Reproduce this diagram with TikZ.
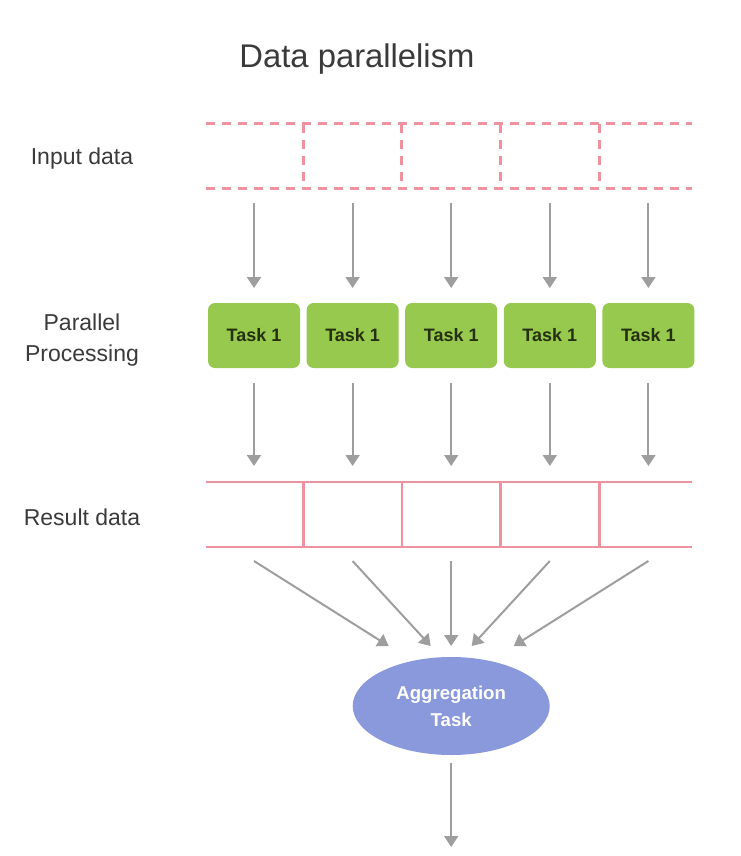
\documentclass[tikz,border=0pt]{standalone}
\usepackage{xcolor}
\usepackage{fontspec}
\setmainfont{Liberation Sans}
\usepackage{tikz}
\usetikzlibrary{
    shapes.geometric,
    arrows.meta,
    positioning,
    calc
}
\definecolor{dppink}{HTML}{F0919F}
\definecolor{dpgreen}{HTML}{97C94F}
\definecolor{dppurple}{HTML}{8A98DC}
\definecolor{dpgray}{HTML}{9E9E9E}
\definecolor{dptext}{HTML}{3A3A3A}
\definecolor{dptask}{HTML}{25300F}
\tikzset{
    % Row label on the left
    rowlabel/.style={
        text=dptext,
        font=\fontsize{11.5}{15.5}\selectfont,
        align=center,
        inner sep=0pt
    },
    % Empty data cell
    cellnode/.style={
        rectangle,
        minimum width=49.3pt,
        minimum height=#1,
        inner sep=0pt,
        outer sep=0pt
    },
    cellnode/.default=32pt,
    % Task box
    taskbox/.style={
        rectangle,
        rounded corners=3.5pt,
        fill=dpgreen,
        text=dptask,
        font=\fontsize{9}{10}\selectfont\bfseries,
        minimum width=46pt,
        minimum height=32.5pt,
        inner sep=0pt,
        outer sep=0pt
    },
    % Aggregation ellipse
    aggnode/.style={
        ellipse,
        fill=dppurple,
        text=white,
        font=\fontsize{9.3}{13.5}\selectfont\bfseries,
        minimum width=98.5pt,
        minimum height=49pt,
        align=center,
        inner sep=0pt,
        outer sep=0pt
    },
    % Cell lines
    dashline/.style={
        draw=dppink,
        line width=1.5pt,
        dash pattern=on 4.5pt off 3.5pt
    },
    solidline/.style={
        draw=dppink,
        line width=1.4pt
    },
    % Arrow style
    dparrow/.style={
        -{Triangle[length=5.5pt,width=7pt]},
        line width=1pt,
        draw=dpgray,
        fill=dpgray
    }
}
\begin{document}
\begin{tikzpicture}[x=0.5pt, y=-0.5pt, node distance=0pt]
    \useasboundingbox (0,0) rectangle (740,856);

    \node[text=dptext, font=\fontsize{16.4}{20}\selectfont, inner sep=0pt] (title) at (357,59) {Data parallelism};

    % labels
    \node[rowlabel] (lb-in) at (82,159) {Input data};
    \node[rowlabel] (lb-tk) at (82,340) {Parallel\\Processing};
    \node[rowlabel] (lb-rs) at (82,517) {Result data};

    % input data cells
    \node[cellnode] (in-1) at (254,156) {};
    \node[cellnode, right=of in-1] (in-2) {};
    \node[cellnode, right=of in-2] (in-3) {};
    \node[cellnode, right=of in-3] (in-4) {};
    \node[cellnode, right=of in-4] (in-5) {};
    \draw[dashline] (206,124) -- (692,124);
    \draw[dashline] (206,188) -- (692,188);
    \draw[dashline] (in-1.north east) -- (in-1.south east);
    \draw[dashline] (in-2.north east) -- (in-2.south east);
    \draw[dashline] (in-3.north east) -- (in-3.south east);
    \draw[dashline] (in-4.north east) -- (in-4.south east);

    % tasks
    \node[taskbox, below=57.5pt of in-1] (tk-1) {Task 1};
    \node[taskbox, below=57.5pt of in-2] (tk-2) {Task 1};
    \node[taskbox, below=57.5pt of in-3] (tk-3) {Task 1};
    \node[taskbox, below=57.5pt of in-4] (tk-4) {Task 1};
    \node[taskbox, below=57.5pt of in-5] (tk-5) {Task 1};

    % result data cells
    \node[cellnode=32.5pt, below=57pt of tk-1] (rs-1) {};
    \node[cellnode=32.5pt, right=of rs-1] (rs-2) {};
    \node[cellnode=32.5pt, right=of rs-2] (rs-3) {};
    \node[cellnode=32.5pt, right=of rs-3] (rs-4) {};
    \node[cellnode=32.5pt, right=of rs-4] (rs-5) {};
    \draw[solidline] (206,482) -- (692,482);
    \draw[solidline] (206,547) -- (692,547);
    \draw[solidline] (rs-1.north east) -- (rs-1.south east);
    \draw[solidline] (rs-2.north east) -- (rs-2.south east);
    \draw[solidline] (rs-3.north east) -- (rs-3.south east);
    \draw[solidline] (rs-4.north east) -- (rs-4.south east);

    % aggregation
    \node[aggnode, below=55pt of rs-3] (agg) {Aggregation\\Task};
    \coordinate (tip-1) at ($(agg.center)+(-62.5,-60)$);
    \coordinate (tip-2) at ($(agg.center)+(-20.5,-60)$);
    \coordinate (tip-3) at ($(agg.center)+(0,-60)$);
    \coordinate (tip-4) at ($(agg.center)+(20.5,-60)$);
    \coordinate (tip-5) at ($(agg.center)+(62.5,-60)$);
    \coordinate (out) at ($(agg.south)+(0,92)$);

    % arrows
    \draw[dparrow, shorten <=7.5pt, shorten >=7.5pt] (in-1.south) -- (tk-1.north);
    \draw[dparrow, shorten <=7.5pt, shorten >=7.5pt] (in-2.south) -- (tk-2.north);
    \draw[dparrow, shorten <=7.5pt, shorten >=7.5pt] (in-3.south) -- (tk-3.north);
    \draw[dparrow, shorten <=7.5pt, shorten >=7.5pt] (in-4.south) -- (tk-4.north);
    \draw[dparrow, shorten <=7.5pt, shorten >=7.5pt] (in-5.south) -- (tk-5.north);

    \draw[dparrow, shorten <=7.5pt, shorten >=8pt] (tk-1.south) -- (rs-1.north);
    \draw[dparrow, shorten <=7.5pt, shorten >=8pt] (tk-2.south) -- (rs-2.north);
    \draw[dparrow, shorten <=7.5pt, shorten >=8pt] (tk-3.south) -- (rs-3.north);
    \draw[dparrow, shorten <=7.5pt, shorten >=8pt] (tk-4.south) -- (rs-4.north);
    \draw[dparrow, shorten <=7.5pt, shorten >=8pt] (tk-5.south) -- (rs-5.north);

    \draw[dparrow] ([yshift=-7pt]rs-1.south) -- (tip-1);
    \draw[dparrow] ([yshift=-7pt]rs-2.south) -- (tip-2);
    \draw[dparrow] ([yshift=-7pt]rs-3.south) -- (tip-3);
    \draw[dparrow] ([yshift=-7pt]rs-4.south) -- (tip-4);
    \draw[dparrow] ([yshift=-7pt]rs-5.south) -- (tip-5);

    \draw[dparrow, shorten <=4pt] (agg.south) -- (out);
\end{tikzpicture}
\end{document}
